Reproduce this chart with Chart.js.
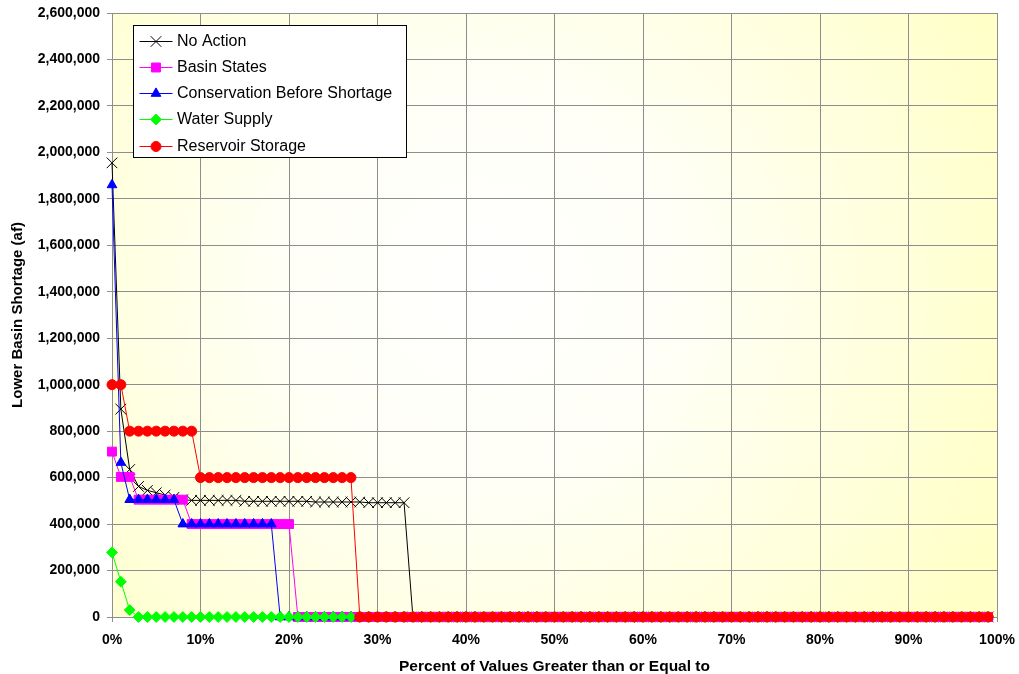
<!DOCTYPE html>
<html>
<head>
<meta charset="utf-8">
<script src="https://cdn.jsdelivr.net/npm/chart.js@4.4.0/dist/chart.umd.min.js"></script>
<style>
  html, body { margin: 0; padding: 0; background: #fff; }
  #wrap { width: 1019px; height: 674px; }
</style>
</head>
<body>
<div id="wrap"><canvas id="shortage" width="1019" height="674"></canvas></div>
<script>
// percent of values greater than or equal to (x)
const percent = [
   0,  1,  2,  3,  4,  5,  6,  7,  8,  9,
  10, 11, 12, 13, 14, 15, 16, 17, 18, 19,
  20, 21, 22, 23, 24, 25, 26, 27, 28, 29,
  30, 31, 32, 33, 34, 35, 36, 37, 38, 39,
  40, 41, 42, 43, 44, 45, 46, 47, 48, 49,
  50, 51, 52, 53, 54, 55, 56, 57, 58, 59,
  60, 61, 62, 63, 64, 65, 66, 67, 68, 69,
  70, 71, 72, 73, 74, 75, 76, 77, 78, 79,
  80, 81, 82, 83, 84, 85, 86, 87, 88, 89,
  90, 91, 92, 93, 94, 95, 96, 97, 98, 99
];

// lower basin shortage (af)
const noAction = [
  1955000, 895000, 635000, 562000, 545000, 535000, 525000, 515000, 505000, 502000,
  502000, 502000, 502000, 502000, 502000, 498000, 498000, 498000, 498000, 498000,
  498000, 498000, 498000, 495000, 495000, 495000, 495000, 495000, 495000, 492000,
  492000, 492000, 492000, 492000, 0, 0, 0, 0, 0, 0,
  0, 0, 0, 0, 0, 0, 0, 0, 0, 0,
  0, 0, 0, 0, 0, 0, 0, 0, 0, 0,
  0, 0, 0, 0, 0, 0, 0, 0, 0, 0,
  0, 0, 0, 0, 0, 0, 0, 0, 0, 0,
  0, 0, 0, 0, 0, 0, 0, 0, 0, 0,
  0, 0, 0, 0, 0, 0, 0, 0, 0, 0
];
const basinStates = [
  712000, 603000, 603000, 505000, 505000, 505000, 505000, 505000, 505000, 400000,
  400000, 400000, 400000, 400000, 400000, 400000, 400000, 400000, 400000, 400000,
  400000, 0, 0, 0, 0, 0, 0, 0, 0, 0,
  0, 0, 0, 0, 0, 0, 0, 0, 0, 0,
  0, 0, 0, 0, 0, 0, 0, 0, 0, 0,
  0, 0, 0, 0, 0, 0, 0, 0, 0, 0,
  0, 0, 0, 0, 0, 0, 0, 0, 0, 0,
  0, 0, 0, 0, 0, 0, 0, 0, 0, 0,
  0, 0, 0, 0, 0, 0, 0, 0, 0, 0,
  0, 0, 0, 0, 0, 0, 0, 0, 0, 0
];
const conservation = [
  1860000, 665000, 505000, 505000, 505000, 505000, 505000, 505000, 400000, 400000,
  400000, 400000, 400000, 400000, 400000, 400000, 400000, 400000, 400000, 0,
  0, 0, 0, 0, 0, 0, 0, 0, 0, 0,
  0, 0, 0, 0, 0, 0, 0, 0, 0, 0,
  0, 0, 0, 0, 0, 0, 0, 0, 0, 0,
  0, 0, 0, 0, 0, 0, 0, 0, 0, 0,
  0, 0, 0, 0, 0, 0, 0, 0, 0, 0,
  0, 0, 0, 0, 0, 0, 0, 0, 0, 0,
  0, 0, 0, 0, 0, 0, 0, 0, 0, 0,
  0, 0, 0, 0, 0, 0, 0, 0, 0, 0
];
const waterSupply = [
  278000, 152000, 30000, 0, 0, 0, 0, 0, 0, 0,
  0, 0, 0, 0, 0, 0, 0, 0, 0, 0,
  0, 0, 0, 0, 0, 0, 0, 0, 0, 0,
  0, 0, 0, 0, 0, 0, 0, 0, 0, 0,
  0, 0, 0, 0, 0, 0, 0, 0, 0, 0,
  0, 0, 0, 0, 0, 0, 0, 0, 0, 0,
  0, 0, 0, 0, 0, 0, 0, 0, 0, 0,
  0, 0, 0, 0, 0, 0, 0, 0, 0, 0,
  0, 0, 0, 0, 0, 0, 0, 0, 0, 0,
  0, 0, 0, 0, 0, 0, 0, 0, 0, 0
];
const reservoirStorage = [
  1000000, 1000000, 800000, 800000, 800000, 800000, 800000, 800000, 800000, 800000,
  600000, 600000, 600000, 600000, 600000, 600000, 600000, 600000, 600000, 600000,
  600000, 600000, 600000, 600000, 600000, 600000, 600000, 600000, 0, 0,
  0, 0, 0, 0, 0, 0, 0, 0, 0, 0,
  0, 0, 0, 0, 0, 0, 0, 0, 0, 0,
  0, 0, 0, 0, 0, 0, 0, 0, 0, 0,
  0, 0, 0, 0, 0, 0, 0, 0, 0, 0,
  0, 0, 0, 0, 0, 0, 0, 0, 0, 0,
  0, 0, 0, 0, 0, 0, 0, 0, 0, 0,
  0, 0, 0, 0, 0, 0, 0, 0, 0, 0
];

const seriesNames = ['No Action', 'Basin States', 'Conservation Before Shortage', 'Water Supply', 'Reservoir Storage'];
const seriesColors = ['#000000', '#FF00FF', '#0000FF', '#00FF00', '#FF0000'];
const seriesMarkers = ['crossRot', 'rect', 'triangle', 'rectRot', 'circle'];
const markerRadius = [7.5, 6.3, 5.6, 5.4, 5];
const seriesValues = [noAction, basinStates, conservation, waterSupply, reservoirStorage];

const FONT = '"Liberation Sans", Arial, sans-serif';

function toPoints(values) {
  return values.map((v, i) => ({ x: percent[i], y: v }));
}

// light yellow shading behind the plot, whitest near the middle
const plotBackground = {
  id: 'plotBackground',
  beforeDraw(chart) {
    const { ctx, chartArea: a } = chart;
    const cx = a.left + (a.right - a.left) * 0.42;
    const cy = a.top + (a.bottom - a.top) * 0.45;
    const g = ctx.createRadialGradient(cx, cy, 0, cx, cy, 580);
    g.addColorStop(0, '#FFFFFF');
    g.addColorStop(0.35, '#FFFFF6');
    g.addColorStop(1, '#FFFFC6');
    ctx.save();
    ctx.fillStyle = g;
    ctx.fillRect(a.left, a.top, a.right - a.left, a.bottom - a.top);
    ctx.restore();
  }
};

// boxed legend in the top-left corner of the plot
const boxLegend = {
  id: 'boxLegend',
  afterDraw(chart) {
    const ctx = chart.ctx;
    const x0 = 133.5, y0 = 25.5;
    const w = 273, h = 132, rowH = 26.3;
    ctx.save();
    ctx.fillStyle = '#FFFFFF';
    ctx.fillRect(x0, y0, w, h);
    ctx.strokeStyle = '#000000';
    ctx.lineWidth = 1;
    ctx.strokeRect(x0, y0, w, h);
    ctx.font = '16px ' + FONT;
    ctx.textBaseline = 'middle';
    chart.data.datasets.forEach((ds, i) => {
      const y = Math.round(y0 + 15 + i * rowH) + 0.5;
      ctx.strokeStyle = ds.borderColor;
      ctx.lineWidth = 1;
      ctx.beginPath();
      ctx.moveTo(x0 + 6, y);
      ctx.lineTo(x0 + 39, y);
      ctx.stroke();
      ctx.fillStyle = ds.pointBackgroundColor;
      ctx.strokeStyle = ds.pointBorderColor;
      Chart.helpers.drawPoint(ctx, { pointStyle: ds.pointStyle, radius: ds.pointRadius, borderWidth: 1 }, x0 + 22.5, y);
      ctx.fillStyle = '#000000';
      ctx.fillText(ds.label, x0 + 43.5, y + 0.5);
    });
    ctx.restore();
  }
};

const datasets = seriesNames.map((name, i) => ({
  label: name,
  data: toPoints(seriesValues[i]),
  borderColor: seriesColors[i],
  backgroundColor: seriesColors[i],
  borderWidth: 1,
  pointStyle: seriesMarkers[i],
  pointRadius: markerRadius[i],
  pointBackgroundColor: seriesColors[i],
  pointBorderColor: seriesColors[i],
  pointBorderWidth: 1,
  tension: 0,
  clip: false,
  order: seriesNames.length - i
}));

new Chart(document.getElementById('shortage'), {
  type: 'line',
  data: { datasets },
  plugins: [plotBackground, boxLegend],
  options: {
    responsive: false,
    animation: false,
    layout: { padding: { top: 13, right: 22, left: 0, bottom: 0 } },
    plugins: {
      legend: { display: false },
      tooltip: { enabled: false }
    },
    scales: {
      x: {
        type: 'linear',
        min: 0,
        max: 100,
        grid: { color: '#8E8E8E', lineWidth: 1, tickLength: 5 },
        border: { color: '#8E8E8E' },
        ticks: {
          stepSize: 10,
          autoSkip: false,
          maxRotation: 0,
          padding: 10,
          color: '#000',
          font: { family: FONT, size: 14, weight: 'bold' },
          callback: v => v + '%'
        },
        title: {
          display: true,
          text: 'Percent of Values Greater than or Equal to',
          color: '#000',
          font: { family: FONT, size: 15.5, weight: 'bold', lineHeight: 1 },
          padding: { top: 0, bottom: 0 }
        },
        afterFit(scale) {
          scale.height = 57;
          scale.paddingLeft = 0;
          scale.paddingRight = 0;
        }
      },
      y: {
        min: 0,
        max: 2600000,
        grid: { color: '#8E8E8E', lineWidth: 1, tickLength: 5 },
        border: { color: '#8E8E8E' },
        ticks: {
          stepSize: 200000,
          padding: 7,
          color: '#000',
          font: { family: FONT, size: 14, weight: 'bold' },
          callback: v => v.toLocaleString('en-US')
        },
        title: {
          display: true,
          text: 'Lower Basin Shortage (af)',
          color: '#000',
          font: { family: FONT, size: 15, weight: 'bold', lineHeight: 1 },
          padding: { top: 10.5, bottom: 0 }
        },
        afterFit(scale) {
          scale.width = 112;
          scale.paddingTop = 0;
          scale.paddingBottom = 0;
        }
      }
    }
  }
});
</script>
</body>
</html>
